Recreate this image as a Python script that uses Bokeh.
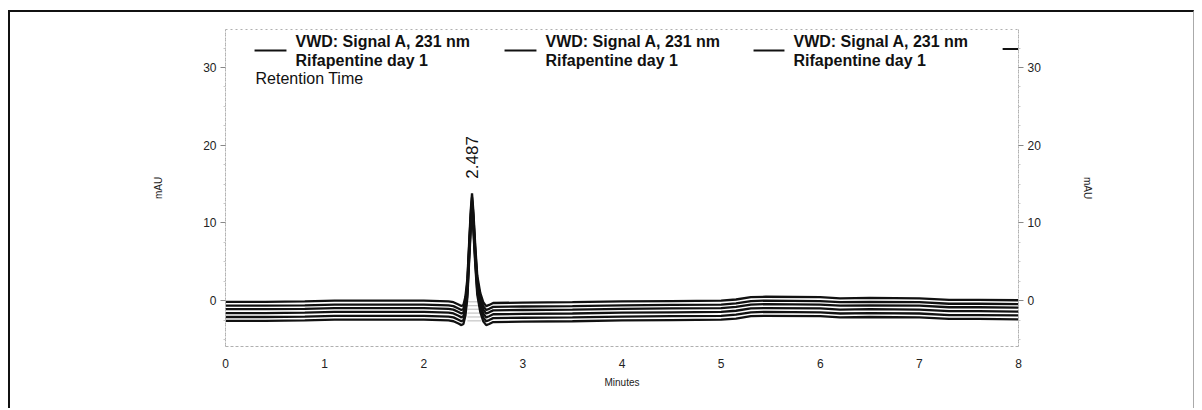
import math
from bokeh.plotting import figure
from bokeh.models import LinearAxis, Range1d, Label, FixedTicker, ColumnDataSource
from bokeh.embed import file_html
from bokeh.resources import INLINE

# ---- data ----
time_min = [0, 0.4, 0.8, 1.1, 1.5, 2.0, 2.25, 2.30, 2.35, 2.38, 2.40, 2.42, 2.44, 2.46,
            2.475, 2.487, 2.50, 2.52, 2.54, 2.57, 2.60, 2.63, 2.66, 2.70, 3.0, 3.5, 4.0,
            4.5, 5.0, 5.15, 5.3, 5.45, 6.0, 6.2, 6.5, 7.0, 7.3, 7.6, 8.0]
signal_mAU = [-0.15, -0.15, -0.1, 0.0, 0.0, 0.0, -0.1, -0.2, -0.5, -0.7, -0.55, 0.5, 2.8, 8.0,
              11.8, 13.8, 11.6, 7.0, 3.2, 1.0, -0.2, -0.7, -0.55, -0.3, -0.25, -0.2, -0.1,
              -0.05, 0.0, 0.15, 0.45, 0.5, 0.45, 0.3, 0.35, 0.3, 0.1, 0.1, 0.05]
trace_offsets_mAU = [0.0, -0.5, -0.95, -1.45, -1.95, -2.45]   # overlay offsets of the 6 injections
peak_rt = 2.487
peak_label = "2.487"
peak_baseline_t = [2.44, 2.58]
peak_baseline_v = -0.15
y_ticks = [0, 10, 20, 30]
y_minor = [-5, -2.5, 2.5, 5, 7.5, 12.5, 15, 17.5, 22.5, 25, 27.5, 32.5]
x_ticks = [0, 1, 2, 3, 4, 5, 6, 7, 8]
legend_line1 = "VWD: Signal A, 231 nm"
legend_line2 = "Rifapentine day 1"

FONT = "Liberation Sans"
INK = "#111111"

p = figure(width=1186, height=398, x_range=Range1d(0, 8), y_range=Range1d(-5.9, 34.9),
           output_backend="svg", toolbar_location=None,
           min_border_left=215, min_border_right=178, min_border_top=17, min_border_bottom=64)
p.styles = {"margin-left": "8px", "margin-top": "10px",
            "border-left": "2px solid #111", "border-top": "2px solid #111",
            "border-right": "1px solid #aaa"}
p.grid.visible = False
p.background_fill_color = "white"
p.border_fill_color = "white"
p.outline_line_color = "#b0b0b0"
p.outline_line_dash = "2 3"
p.outline_line_width = 1

# traces
for off in trace_offsets_mAU:
    src = ColumnDataSource(dict(t=time_min, v=[s + off for s in signal_mAU]))
    p.line("t", "v", source=src, line_color=INK, line_width=2.3)
    bsrc = ColumnDataSource(dict(t=peak_baseline_t, v=[peak_baseline_v + off] * 2))
    p.line("t", "v", source=bsrc, line_color="#8a8a8a", line_width=0.6)


def style_axis(ax, label):
    ax.axis_label = label
    ax.axis_label_text_font = FONT
    ax.axis_label_text_font_size = "10px"
    ax.axis_label_text_font_style = "normal"
    ax.axis_label_text_color = "#222"
    ax.major_label_text_font = FONT
    ax.major_label_text_font_size = "12px"
    ax.major_label_text_color = "#222"
    ax.axis_line_color = "#b0b0b0"
    ax.axis_line_dash = "2 3"
    ax.major_tick_line_color = "#888"
    ax.major_tick_out = 5
    ax.major_tick_in = 0
    ax.minor_tick_line_color = "#c8c8c8"
    ax.minor_tick_out = 2
    ax.minor_tick_in = 0


p.yaxis.ticker = FixedTicker(ticks=y_ticks, minor_ticks=y_minor)
style_axis(p.yaxis[0], "mAU")
p.yaxis.axis_label_standoff = 36
p.yaxis.major_label_standoff = 4

ry = LinearAxis(ticker=FixedTicker(ticks=y_ticks, minor_ticks=y_minor))
style_axis(ry, "mAU")
ry.axis_label_standoff = 38
ry.major_label_standoff = 4
ry.axis_label_orientation = "vertical"
p.add_layout(ry, "right")

p.xaxis.ticker = FixedTicker(ticks=x_ticks)
style_axis(p.xaxis[0], "Minutes")
p.xaxis.major_tick_out = 0
p.xaxis.minor_tick_out = 0
p.xaxis.major_label_standoff = 12
p.xaxis.axis_label_standoff = 6

# peak annotation
p.add_layout(Label(x=peak_rt, y=15.7, text=peak_label, angle=math.pi / 2,
                   text_align="left", text_baseline="middle", text_font=FONT,
                   text_font_size="17px", text_color=INK))

# legend (as printed by the data system)
leg_x = [(0.293, 0.615, 0.706), (2.815, 3.137, 3.228), (5.327, 5.639, 5.730)]
for x0, x1, xt in leg_x:
    p.segment(x0=[x0], y0=[32.2], x1=[x1], y1=[32.2], line_color=INK, line_width=2)
    p.add_layout(Label(x=xt, y=33.35, text=legend_line1, text_align="left", text_baseline="middle",
                       text_font=FONT, text_font_size="16px", text_font_style="bold", text_color=INK))
    p.add_layout(Label(x=xt, y=30.9, text=legend_line2, text_align="left", text_baseline="middle",
                       text_font=FONT, text_font_size="16px", text_font_style="bold", text_color=INK))
p.segment(x0=[7.84], y0=[32.4], x1=[8.0], y1=[32.4], line_color=INK, line_width=2)
p.add_layout(Label(x=0.303, y=28.6, text="Retention Time", text_align="left", text_baseline="middle",
                   text_font=FONT, text_font_size="16px", text_color=INK))

open("out.html", "w").write(file_html(p, INLINE))
